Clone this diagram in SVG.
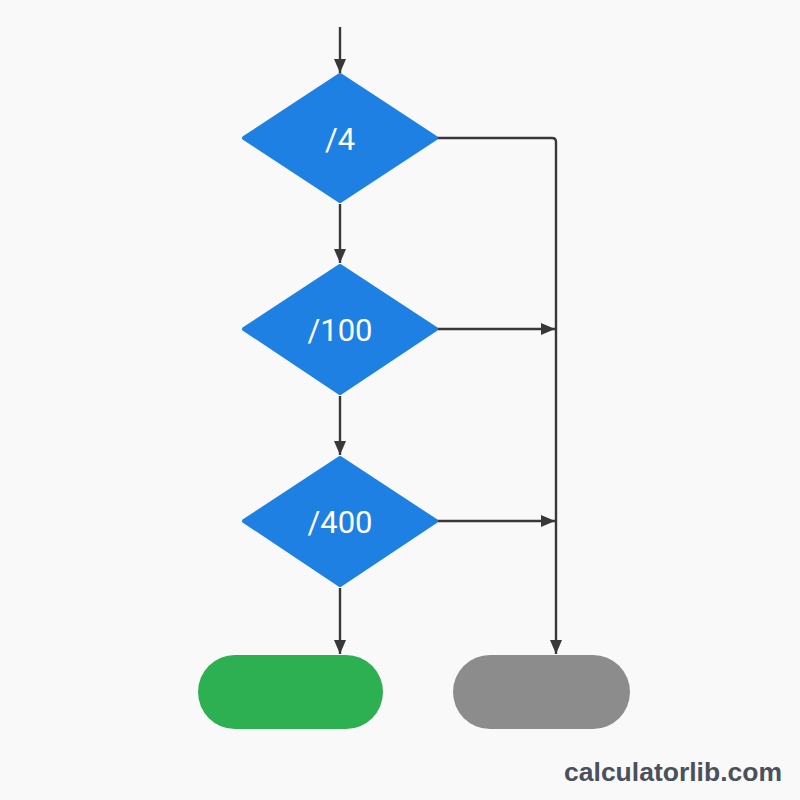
<svg xmlns="http://www.w3.org/2000/svg" width="800" height="800" viewBox="0 0 800 800">
<style>
.d{fill:#1e80e2;stroke:#1e80e2;stroke-width:4;stroke-linejoin:round}
.t{fill:#ffffff;font-family:Roboto,"Liberation Sans",sans-serif;font-size:31px;font-weight:normal;text-anchor:middle}
.c{fill:none;stroke:#383838;stroke-width:2.4}
</style>
<defs>
<marker id="ah" markerWidth="14" markerHeight="12" refX="14" refY="6" orient="auto" markerUnits="userSpaceOnUse" viewBox="0 0 14 12">
<path d="M0,0 L14,6 L0,12 z" fill="#383838"/>
</marker>
</defs>
<rect width="800" height="800" fill="#f9f9f9"/>
<g id="connectors">
<path class="c" d="M340,27 V73" marker-end="url(#ah)"/>
<path class="c" d="M340,204 V263" marker-end="url(#ah)"/>
<path class="c" d="M340,396 V455" marker-end="url(#ah)"/>
<path class="c" d="M340,588 V654" marker-end="url(#ah)"/>
<path class="c" d="M437,138 H552 Q556,138 556,142 V654" marker-end="url(#ah)"/>
<path class="c" d="M437,329 H555" marker-end="url(#ah)"/>
<path class="c" d="M437,521 H555" marker-end="url(#ah)"/>
</g>
<g id="n1">
<polygon class="d" points="340,75 436,138 340,201 244,138"/>
<text class="t" x="340" y="150">/4</text>
</g>
<g id="n2">
<polygon class="d" points="340,266 436,329 340,393 244,329"/>
<text class="t" x="340" y="341">/100</text>
</g>
<g id="n3">
<polygon class="d" points="340,458 436,521 340,585 244,521"/>
<text class="t" x="340" y="533">/400</text>
</g>
<g id="n4">
<rect x="198" y="655" width="185" height="74" rx="37" fill="#2db052"/>
</g>
<g id="n5">
<rect x="453" y="655" width="177" height="74" rx="37" fill="#8c8c8c"/>
</g>
<text x="782" y="781" font-family="'Liberation Sans',Arial,sans-serif" font-weight="bold" font-size="26.5" fill="#4a505c" text-anchor="end">calculatorlib.com</text>
</svg>
